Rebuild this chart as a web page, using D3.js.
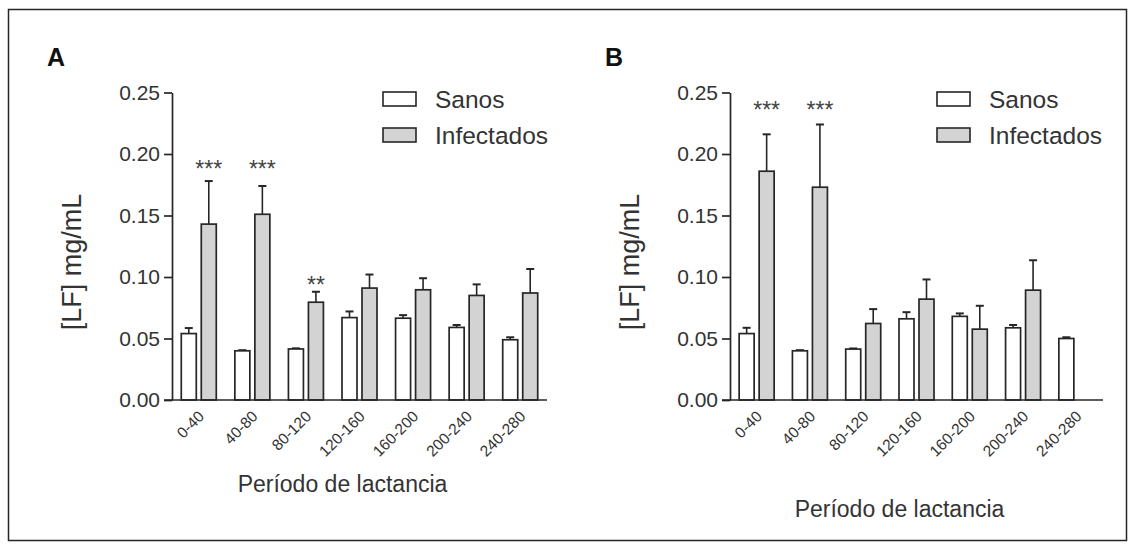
<!DOCTYPE html>
<html>
<head>
<meta charset="utf-8">
<script src="https://cdn.jsdelivr.net/npm/d3@7"></script>
<style>
  html, body { margin: 0; padding: 0; background: #fff; }
  svg { display: block; font-family: "Liberation Sans", Arial, sans-serif; }
</style>
</head>
<body>
<svg id="chart" width="1128" height="547"></svg>
<script>
// Lactation periods (days)
const categories = ["0-40", "40-80", "80-120", "120-160", "160-200", "200-240", "240-280"];
const yTicks = [0.00, 0.05, 0.10, 0.15, 0.20, 0.25];
const seriesNames = ["Sanos", "Infectados"];

// Panel A: mean LF (mg/mL) and upper error (SEM)
const sanosA     = [0.054, 0.040, 0.0415, 0.067, 0.0665, 0.059, 0.049];
const sanosErrA  = [0.0045, 0.0005, 0.0005, 0.005, 0.0025, 0.002, 0.002];
const infectA    = [0.143, 0.151, 0.0795, 0.091, 0.0896, 0.085, 0.087];
const infectErrA = [0.035, 0.023, 0.0085, 0.011, 0.0094, 0.009, 0.0195];
const sigA       = ["***", "***", "**", "", "", "", ""];
const sigLevelA  = [0.190, 0.190, 0.096, 0, 0, 0, 0];

// Panel B
const sanosB     = [0.054, 0.040, 0.0414, 0.066, 0.068, 0.0587, 0.050];
const sanosErrB  = [0.0047, 0.0005, 0.0005, 0.0054, 0.0024, 0.0023, 0.001];
const infectB    = [0.186, 0.173, 0.0622, 0.082, 0.0576, 0.0893, null];
const infectErrB = [0.030, 0.051, 0.0117, 0.016, 0.019, 0.0243, null];
const sigB       = ["***", "***", "", "", "", "", ""];
const sigLevelB  = [0.2386, 0.2386, 0, 0, 0, 0, 0];

const svg = d3.select("#chart");
const ink = "#262626";
const grayFill = "#d3d3d3";
const textCol = "#333";

// outer frame
svg.append("rect")
  .attr("x", 8.5).attr("y", 9.5).attr("width", 1118).attr("height", 531)
  .attr("fill", "none").attr("stroke", ink).attr("stroke-width", 1.5);

function drawPanel(p) {
  const g = svg.append("g");
  const x = d3.scaleBand().domain(categories).range([p.x0, p.x1]).padding(0);
  const y = d3.scaleLinear().domain([0, 0.25]).range([400, 92.5]);
  const barW = 15, gap = 5;

  // bars
  const series = [
    { vals: p.sanos, errs: p.sanosErr, fill: "#ffffff", off: -gap / 2 - barW },
    { vals: p.infect, errs: p.infectErr, fill: grayFill, off: gap / 2 }
  ];
  series.forEach(s => {
    categories.forEach((c, i) => {
      const v = s.vals[i];
      if (v == null) return;
      const cx = x(c) + x.bandwidth() / 2;
      const bx = cx + s.off;
      const top = y(v + s.errs[i]);
      // error bar (upper only)
      g.append("line")
        .attr("x1", bx + barW / 2).attr("x2", bx + barW / 2)
        .attr("y1", y(v)).attr("y2", top)
        .attr("stroke", ink).attr("stroke-width", 1.6);
      g.append("line")
        .attr("x1", bx + barW / 2 - 4).attr("x2", bx + barW / 2 + 4)
        .attr("y1", top).attr("y2", top)
        .attr("stroke", ink).attr("stroke-width", 2);
      g.append("rect")
        .attr("x", bx).attr("y", y(v))
        .attr("width", barW).attr("height", y(0) - y(v))
        .attr("fill", s.fill).attr("stroke", ink).attr("stroke-width", 1.7);
    });
  });

  // significance marks
  categories.forEach((c, i) => {
    if (!p.sig[i]) return;
    const cx = x(c) + x.bandwidth() / 2 + gap / 2 + barW / 2;
    g.append("text")
      .attr("x", cx).attr("y", y(p.sigLevel[i]) + 11)
      .attr("text-anchor", "middle")
      .attr("font-size", 23).attr("fill", "#444")
      .text(p.sig[i]);
  });

  // y axis
  const yAxis = d3.axisLeft(y).tickValues(yTicks).tickFormat(d3.format(".2f"))
    .tickSize(8).tickSizeOuter(0);
  const ya = g.append("g").attr("transform", `translate(${p.x0},0)`).call(yAxis);
  ya.select(".domain").attr("stroke", ink).attr("stroke-width", 1.7);
  ya.selectAll(".tick line").attr("stroke", ink).attr("stroke-width", 1.7);
  ya.selectAll(".tick text").attr("font-size", 21).attr("fill", textCol)
    .attr("font-family", "Liberation Sans, Arial, sans-serif").attr("x", -12);

  // x axis (no ticks)
  const xAxis = d3.axisBottom(x).tickSize(0).tickSizeOuter(0);
  const xa = g.append("g").attr("transform", `translate(0,${y(0)})`).call(xAxis);
  xa.select(".domain").attr("stroke", ink).attr("stroke-width", 1.7)
    .attr("d", `M${p.x0 - 8},0H${p.x1}`);
  xa.selectAll(".tick text")
    .attr("font-size", 15.5).attr("fill", textCol)
    .attr("font-family", "Liberation Sans, Arial, sans-serif")
    .attr("text-anchor", "end")
    .attr("transform", "translate(2.5,13.5) rotate(-45)")
    .attr("dy", "0.35em").attr("y", 0).attr("x", 0);

  // axis titles
  g.append("text")
    .attr("x", (p.x0 + p.x1) / 2 - 17).attr("y", p.xTitleY)
    .attr("text-anchor", "middle").attr("font-size", 23).attr("fill", textCol)
    .text("Período de lactancia");
  g.append("text")
    .attr("transform", `translate(${p.x0 - 91},${p.yTitleY}) rotate(-90)`)
    .attr("text-anchor", "middle").attr("font-size", 27).attr("fill", textCol)
    .text("[LF] mg/mL");

  // panel letter
  g.append("text")
    .attr("x", p.x0 - 125).attr("y", 66)
    .attr("font-size", 25).attr("font-weight", "bold").attr("fill", "#111")
    .text(p.letter);

  // legend
  const lg = g.append("g").attr("transform", `translate(${p.legX},92)`);
  seriesNames.forEach((name, i) => {
    lg.append("rect")
      .attr("x", 0).attr("y", i * 36)
      .attr("width", 33).attr("height", 14)
      .attr("fill", i === 0 ? "#fff" : grayFill)
      .attr("stroke", ink).attr("stroke-width", 1.6);
    lg.append("text")
      .attr("x", 52).attr("y", i * 36 + 7).attr("dy", "0.35em")
      .attr("font-size", 24.5).attr("fill", textCol)
      .text(name);
  });
}

drawPanel({
  letter: "A", x0: 172, x1: 547, legX: 383, xTitleY: 492, yTitleY: 262,
  sanos: sanosA, sanosErr: sanosErrA, infect: infectA, infectErr: infectErrA,
  sig: sigA, sigLevel: sigLevelA
});
drawPanel({
  letter: "B", x0: 730, x1: 1103, legX: 937, xTitleY: 517, yTitleY: 262,
  sanos: sanosB, sanosErr: sanosErrB, infect: infectB, infectErr: infectErrB,
  sig: sigB, sigLevel: sigLevelB
});
</script>
</body>
</html>
